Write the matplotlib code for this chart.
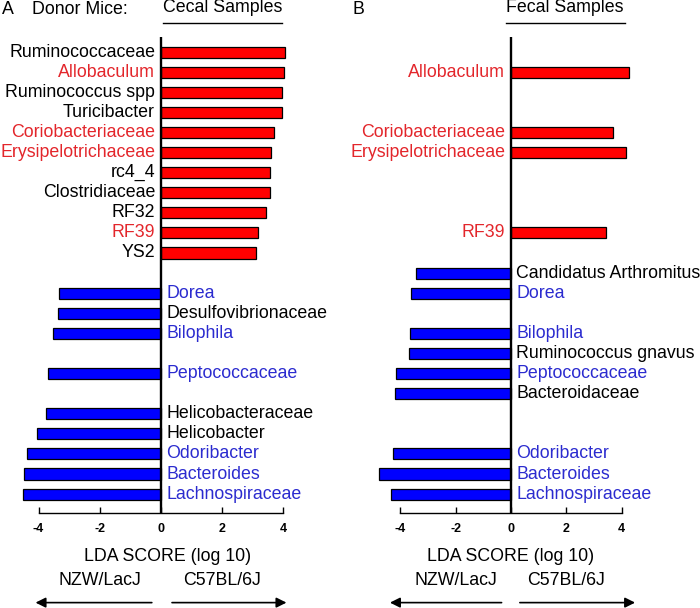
import numpy as np
import matplotlib.pyplot as plt

plt.rcParams['font.family'] = ['Liberation Sans', 'DejaVu Sans']

# LEfSe results, one slot per row ("" = empty row)
cecal_taxa = ["Ruminococcaceae", "Allobaculum", "Ruminococcus spp", "Turicibacter",
              "Coriobacteriaceae", "Erysipelotrichaceae", "rc4_4", "Clostridiaceae",
              "RF32", "RF39", "YS2", "", "Dorea", "Desulfovibrionaceae", "Bilophila", "",
              "Peptococcaceae", "", "Helicobacteraceae", "Helicobacter", "Odoribacter",
              "Bacteroides", "Lachnospiraceae"]
cecal_lda = [4.05, 4.02, 3.97, 3.94, 3.68, 3.60, 3.56, 3.55, 3.44, 3.16, 3.12, np.nan,
             -3.33, -3.38, -3.53, np.nan, -3.68, np.nan, -3.77, -4.04, -4.38, -4.49, -4.50]

fecal_taxa = ["", "Allobaculum", "", "", "Coriobacteriaceae", "Erysipelotrichaceae", "", "",
              "", "RF39", "", "Candidatus Arthromitus", "Dorea", "", "Bilophila",
              "Ruminococcus gnavus", "Peptococcaceae", "Bacteroidaceae", "", "", "Odoribacter",
              "Bacteroides", "Lachnospiraceae"]
fecal_lda = [np.nan, 4.27, np.nan, np.nan, 3.69, 4.15, np.nan, np.nan, np.nan, 3.44, np.nan,
             -3.43, -3.60, np.nan, -3.63, -3.68, -4.15, -4.20, np.nan, np.nan, -4.27, -4.76, -4.32]

ticks = [-4, -2, 0, 2, 4]
shared = set(cecal_taxa) & set(fecal_taxa) - {""}

RED_TXT, BLUE_TXT = '#e3262b', '#2b2bcf'
FS = 12.8

W, H = 700, 608
fig = plt.figure(figsize=(W / 100, H / 100), dpi=100)


def panel(ax, taxa, lda, title, underline, arrows):
    rows = np.arange(len(taxa))
    lda = np.array(lda, dtype=float)
    ok = ~np.isnan(lda)
    colors = np.where(lda[ok] > 0, '#ff0000', '#0000ff')
    ax.barh(rows[ok], lda[ok], height=0.55, color=colors, edgecolor='black',
            linewidth=0.9, zorder=2)
    ax.axvline(0, color='black', lw=1.7, zorder=3)

    for r, name, v in zip(rows, taxa, lda):
        if not name:
            continue
        if name in shared:
            c = RED_TXT if v > 0 else BLUE_TXT
        else:
            c = 'black'
        dx = -6 if v > 0 else 5
        ax.annotate(name, xy=(0, r), xytext=(dx, 0), textcoords='offset pixels',
                    ha='right' if v > 0 else 'left', va='center',
                    fontsize=FS, color=c)

    ax.set_xlim(-5, 5)
    ax.set_ylim(22.94, -0.75)
    ax.set_yticks([])
    for s in ['top', 'right', 'left']:
        ax.spines[s].set_visible(False)
    ax.spines['bottom'].set_bounds(-4, 4)
    ax.spines['bottom'].set_linewidth(1)
    ax.set_xticks(ticks)
    ax.set_xticklabels([str(t) for t in ticks], fontweight='bold', fontsize=9)
    ax.tick_params(axis='x', direction='in', length=4, width=1, pad=7)
    ax.patch.set_alpha(0)

    # header
    ax.text(title[0], -2.2, title[1], ha='center', va='center', fontsize=FS,
            clip_on=False)
    ax.plot(underline, [-1.44, -1.44], color='black', lw=1, clip_on=False)

    # bottom annotations
    ax.text(arrows[4], 25.1, 'LDA SCORE (log 10)', ha='center', va='center',
            fontsize=FS, clip_on=False)
    ax.text(-2, 26.3, 'NZW/LacJ', ha='center', va='center', fontsize=FS,
            clip_on=False)
    ax.text(2, 26.3, 'C57BL/6J', ha='center', va='center', fontsize=FS,
            clip_on=False)
    ap = dict(arrowstyle='-|>', color='black', lw=1.2, mutation_scale=15,
              shrinkA=0, shrinkB=0)
    ax.annotate('', xy=(arrows[0], 27.4), xytext=(arrows[1], 27.4),
                arrowprops=ap, annotation_clip=False)
    ax.annotate('', xy=(arrows[3], 27.4), xytext=(arrows[2], 27.4),
                arrowprops=ap, annotation_clip=False)


axA = fig.add_axes([8 / W, 95 / H, 306 / W, 476 / H])
panel(axA, cecal_taxa, cecal_lda, (2.0, 'Cecal Samples'), [0.07, 3.95],
      (-4.1, -0.3, 0.36, 4.1, 0.2))

axB = fig.add_axes([372.5 / W, 95 / H, 277 / W, 476 / H])
panel(axB, fecal_taxa, fecal_lda, (1.95, 'Fecal Samples'), [-0.18, 4.12],
      (-4.37, -0.34, 0.32, 4.48, 0.0))

fig.text(2 / W, 1 - 10 / H, 'A', fontsize=FS, va='center', ha='left')
fig.text(32 / W, 1 - 10 / H, 'Donor Mice:', fontsize=FS, va='center', ha='left')
fig.text(352 / W, 1 - 10 / H, 'B', fontsize=FS, va='center', ha='left')

fig.savefig('out.png', dpi=100)
